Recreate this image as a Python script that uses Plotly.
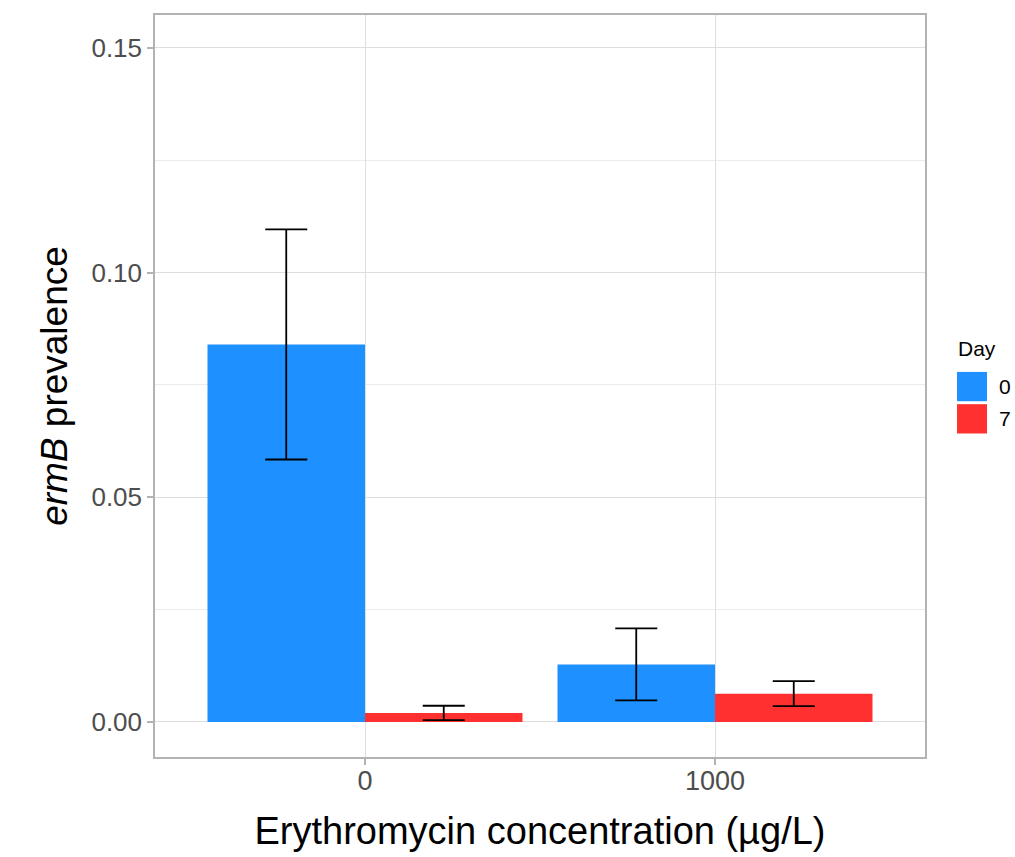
import plotly.graph_objects as go

concentrations = ["0", "1000"]
days = ["0", "7"]
prevalence_day0 = [0.0840, 0.0128]
prevalence_day7 = [0.0020, 0.0063]
err_day0 = [0.0256, 0.0080]
err_day7 = [0.0016, 0.0028]
colors = {"0": "#1E90FF", "7": "#FF3030"}
y_ticks = [0.00, 0.05, 0.10, 0.15]
y_ticklabels = ["0.00", "0.05", "0.10", "0.15"]

font_family = "Liberation Sans, Arial, Helvetica, sans-serif"

fig = go.Figure()
for day, vals, errs in [("0", prevalence_day0, err_day0), ("7", prevalence_day7, err_day7)]:
    fig.add_trace(go.Bar(
        x=concentrations, y=vals, name=day, showlegend=False,
        marker=dict(color=colors[day], line=dict(width=0)),
        error_y=dict(type="data", array=errs, visible=True, color="black", thickness=1.8, width=21),
    ))

# legend (ggplot-style large keys), drawn in paper coordinates
fig.add_annotation(text="Day", xref="paper", yref="paper", x=1.040, y=0.550,
                   xanchor="left", yanchor="middle", showarrow=False,
                   font=dict(size=21, color="black"))
key_top = [0.519, 0.4755]
for i, day in enumerate(days):
    y1 = key_top[i]
    y0 = y1 - 0.0395
    fig.add_shape(type="rect", xref="paper", yref="paper", x0=1.0416, x1=1.0805,
                  y0=y0, y1=y1, fillcolor=colors[day], line=dict(width=0), layer="above")
    fig.add_annotation(text=day, xref="paper", yref="paper", x=1.093, y=(y0 + y1) / 2,
                       xanchor="left", yanchor="middle", showarrow=False,
                       font=dict(size=21, color="black"))

grid = "#DEDEDE"
border = "#B3B3B3"
fig.update_layout(
    width=1015, height=857,
    margin=dict(l=155, r=90, t=15, b=100),
    paper_bgcolor="white", plot_bgcolor="white",
    barmode="group", bargap=0.1, bargroupgap=0,
    font=dict(family=font_family, color="black"),
    showlegend=False,
    xaxis=dict(
        type="category", range=[-0.6, 1.6],
        showgrid=True, gridcolor=grid, gridwidth=1,
        showline=True, linecolor=border, linewidth=1.5, mirror=True,
        ticks="outside", ticklen=6, tickcolor=border, tickwidth=1.5,
        tickfont=dict(size=27, color="#4D4D4D"), ticklabelstandoff=-7,
        title=dict(text="Erythromycin concentration (µg/L)", font=dict(size=38, color="black"), standoff=22),
    ),
    yaxis=dict(
        range=[-0.0078, 0.1573],
        tickvals=y_ticks, ticktext=y_ticklabels,
        showgrid=True, gridcolor=grid, gridwidth=1, zeroline=False,
        minor=dict(tickvals=[0.025, 0.075, 0.125], showgrid=True, gridcolor="#EBEBEB", gridwidth=0.6, ticks=""),
        showline=True, linecolor=border, linewidth=1.5, mirror=True,
        ticks="outside", ticklen=6, tickcolor=border, tickwidth=1.5,
        tickfont=dict(size=26, color="#4D4D4D"),
        title=dict(text="<i>ermB</i> prevalence", font=dict(size=37, color="black"), standoff=12),
    ),
)

fig.write_html("out.html")
